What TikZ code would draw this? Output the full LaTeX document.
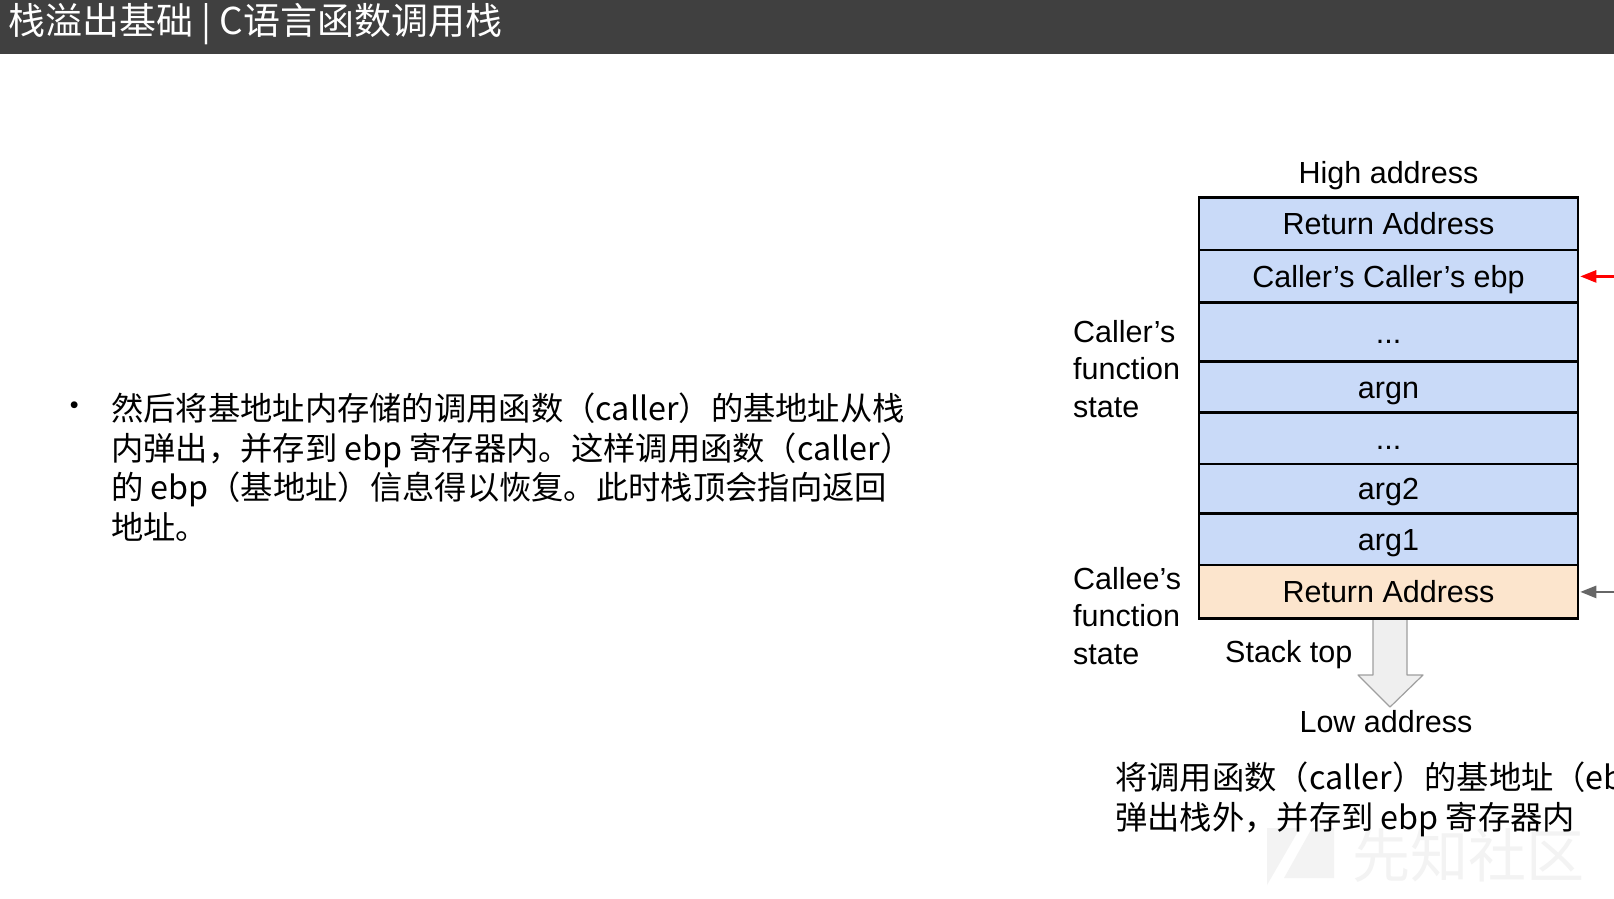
\documentclass[tikz,border=0pt]{standalone}
\usepackage{fontspec}
\setmainfont{Liberation Sans}
\newfontfamily\cjk{Noto Sans CJK SC}
\usetikzlibrary{arrows.meta}
\definecolor{titlebar}{HTML}{404040}
\definecolor{cellblue}{HTML}{C9DAF8}
\definecolor{cellorange}{HTML}{FCE5CD}
\definecolor{arrowgray}{HTML}{EFEFEF}
\definecolor{markgray}{HTML}{F3F3F3}
\begin{document}
\begin{tikzpicture}[x=1pt, y=-1pt,
  cell/.style={draw=black, line width=2.5pt, fill=cellblue, minimum width=379pt, inner sep=0pt,
    text height=22pt, text depth=0pt, font=\fontsize{30.5}{36}\selectfont},
  lbl/.style={font=\fontsize{30.5}{37.5}\selectfont, align=left, inner sep=0pt},
  tag/.style={font=\fontsize{30.5}{37.5}\selectfont, inner sep=0pt, text height=22pt, text depth=0pt},
  body/.style={font=\cjk\fontsize{32.3}{39.5}\selectfont, align=left, inner sep=0pt},
  ptr/.style={line width=2.5pt, -{Triangle[length=16pt,width=12pt]}}]
\clip (0,0) rectangle (1614,898);
\fill[white] (0,0) rectangle (1614,898);
% title bar
\fill[titlebar] (0,0) rectangle (1614,53.5);
\node[anchor=west, text=white, inner sep=0pt, font=\cjk\fontsize{37}{40}\selectfont] (title) at (8,24) {栈溢出基础 | C语言函数调用栈};

% watermark
\fill[markgray] (1267,828) -- (1300,828) -- (1267,885) -- cycle;
\fill[markgray] (1312,828) -- (1334,828) -- (1334,878) -- (1284,878) -- cycle;
\node[text=markgray, inner sep=0pt, font=\cjk\fontsize{58}{60}\selectfont] (mark) at (1468,856) {先知社区};

% left text
\node[body] (bullet) at (75,410) {•};
\node[body, anchor=north west] (desc) at (111,393) {然后将基地址内存储的调用函数（caller）的基地址从栈\\
内弹出，并存到 ebp 寄存器内。这样调用函数（caller）\\
的 ebp（基地址）信息得以恢复。此时栈顶会指向返回\\
地址。};

% stack growth arrow
\draw[draw=gray!75, fill=arrowgray, line width=1.2pt, line join=round]
  (1373,618) -- (1373,675) -- (1358,675) -- (1390,707) -- (1423,675) -- (1407,675) -- (1407,618);

% stack frames
\node[cell, minimum height=52.5pt] (ret) at (1388.5,223.9) {Return Address};
\node[cell, minimum height=52.5pt] (cce) at (1388.5,276.4) {Caller’s Caller’s ebp};
\node[cell, minimum height=58.7pt] (dotsa) at (1388.5,332) {...};
\node[cell, minimum height=51.4pt] (argn) at (1388.5,387) {argn};
\node[cell, minimum height=51.5pt] (dotsb) at (1388.5,438.5) {...};
\node[cell, minimum height=49.4pt] (argb) at (1388.5,488.9) {arg2};
\node[cell, minimum height=51.5pt] (arga) at (1388.5,539.4) {arg1};
\node[cell, fill=cellorange, minimum height=53.5pt] (cret) at (1388.5,591.9) {Return Address};

\node[tag] (high) at (1388.5,172) {High address};
\node[tag] (low) at (1386,721.5) {Low address};
\node[tag, anchor=west] (stacktop) at (1225,651) {Stack top};
\node[lbl, anchor=west] (callerlbl) at (1073,369) {Caller’s\\function\\state};
\node[lbl, anchor=west] (calleelbl) at (1073,616) {Callee’s\\function\\state};

% pointers from the right
\coordinate (ebpin) at (1640,276.4);
\coordinate (espin) at (1640,591.9);
\draw[ptr, red] (ebpin) -- ([xshift=1pt]cce.east);
\draw[ptr, black!60] (espin) -- ([xshift=1pt]cret.east);

% caption
\node[body, anchor=north west] (note) at (1115,762) {将调用函数（caller）的基地址（ebp）\\
弹出栈外，并存到 ebp 寄存器内};
\end{tikzpicture}
\end{document}
